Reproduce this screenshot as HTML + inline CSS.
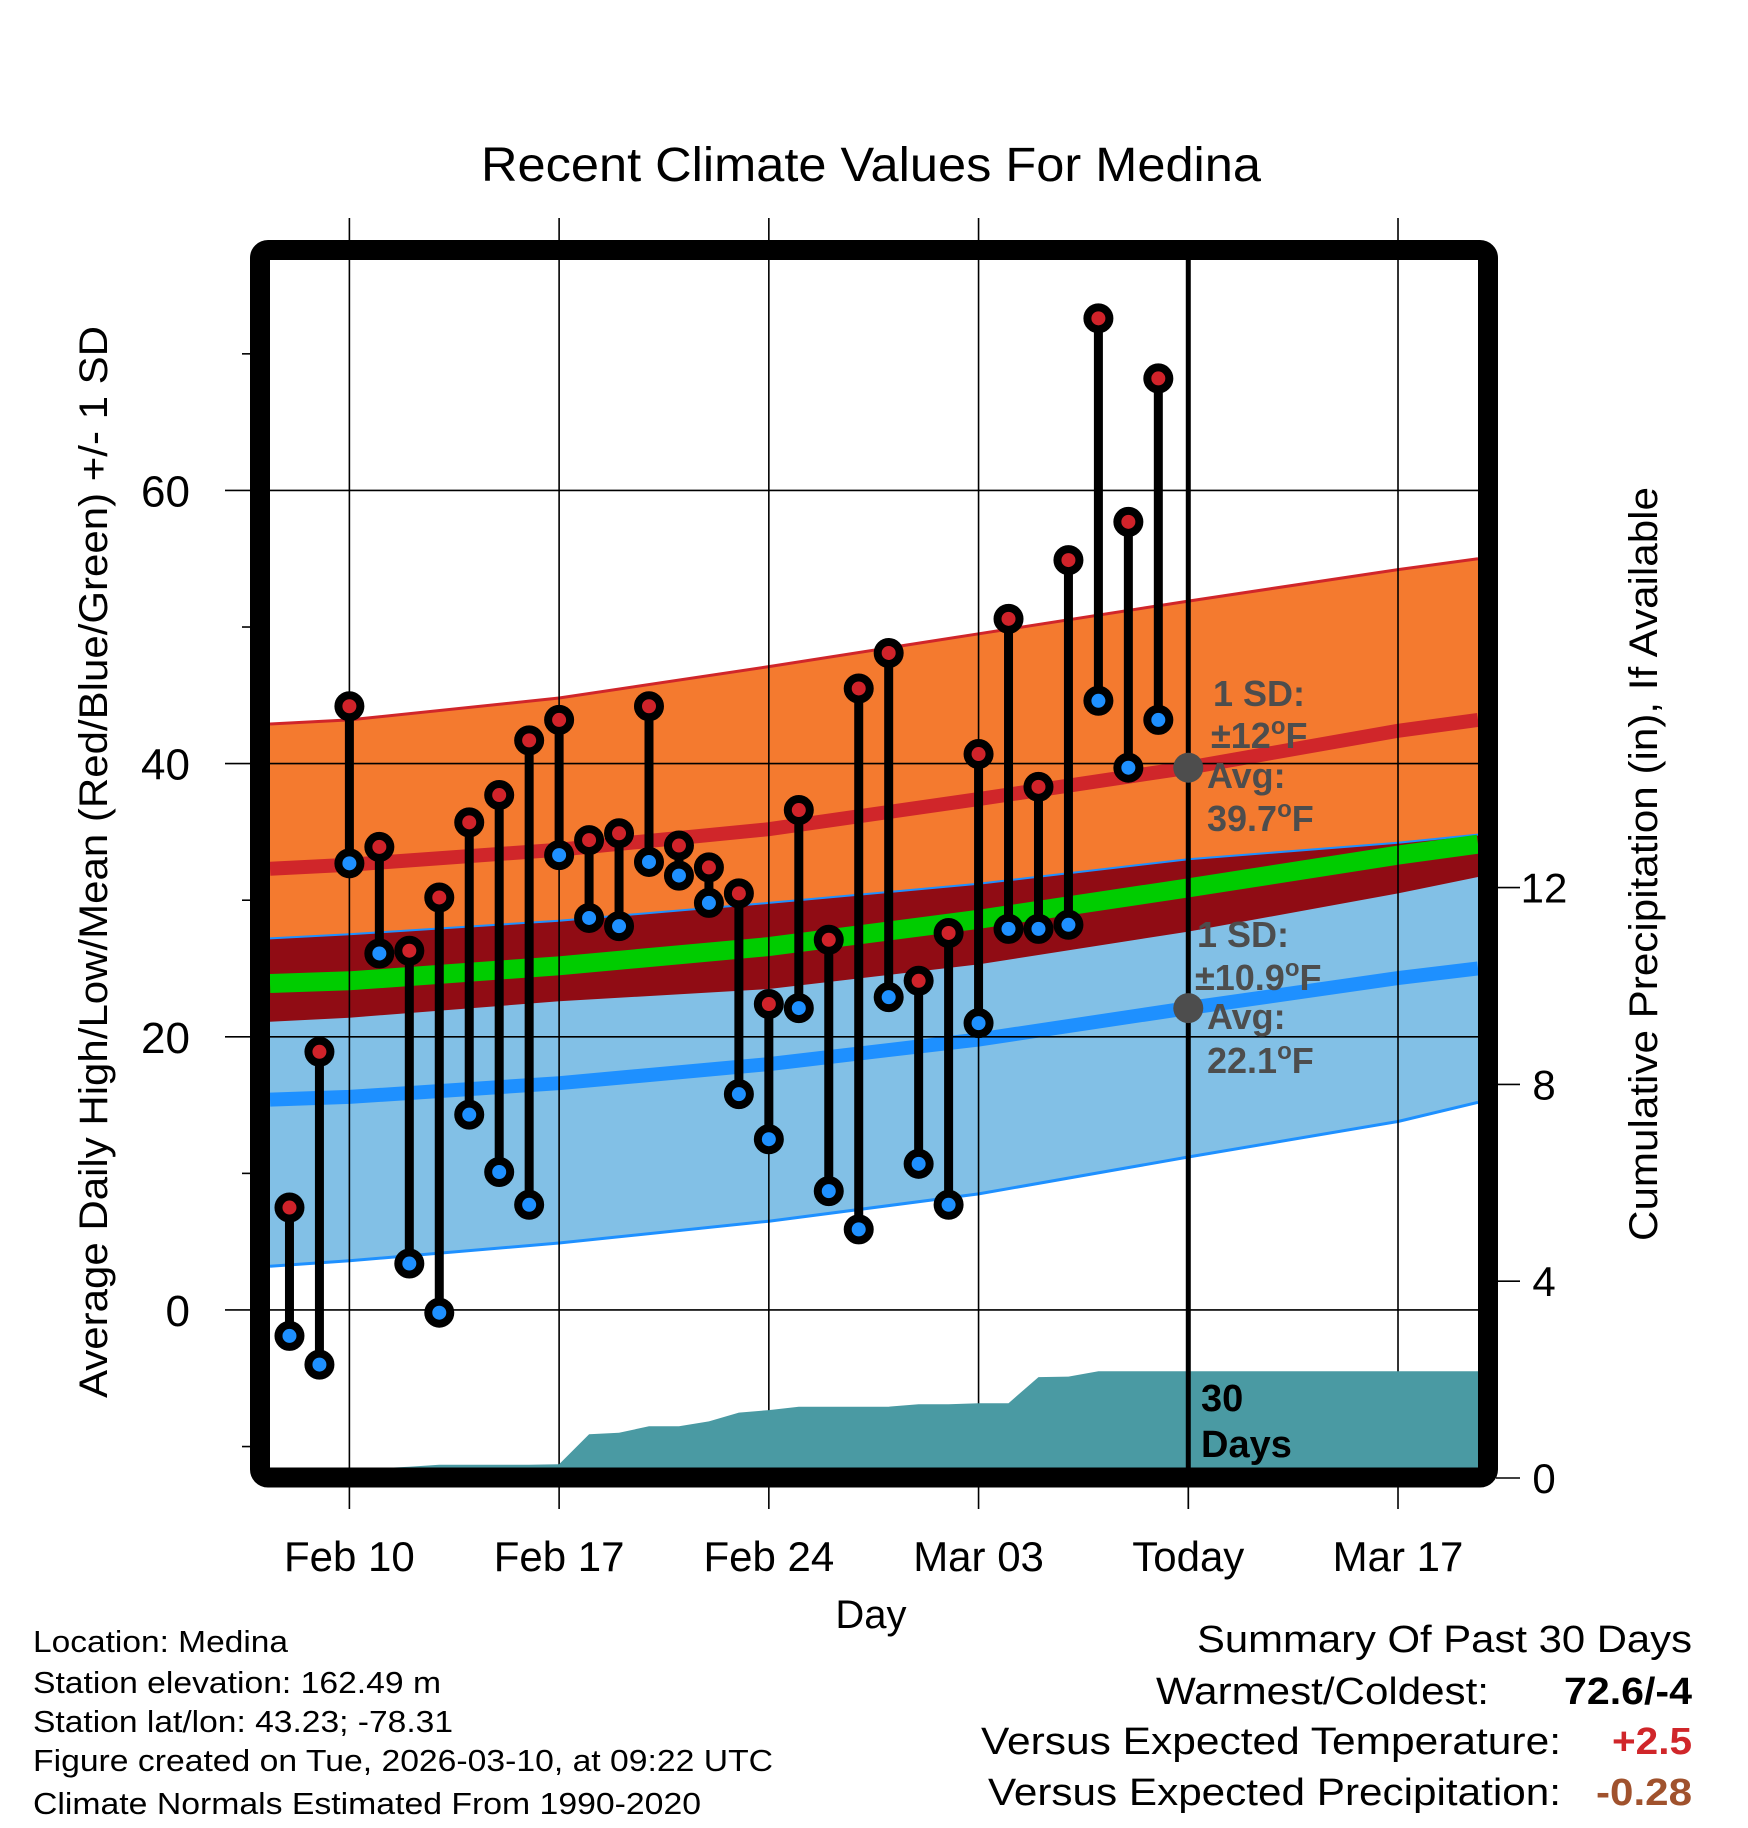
<!DOCTYPE html>
<html><head><meta charset="utf-8"><title>Recent Climate Values For Medina</title>
<style>html,body{margin:0;padding:0;background:#fff}svg{display:block;font-family:"Liberation Sans",sans-serif}</style>
</head><body>
<svg id="chart" width="1748" height="1828" viewBox="0 0 1748 1828" xmlns="http://www.w3.org/2000/svg">
<defs><clipPath id="plotclip"><rect x="270" y="260" width="1208" height="1208"/></clipPath></defs>
<text x="871" y="181" font-size="48" text-anchor="middle" textLength="780" lengthAdjust="spacingAndGlyphs">Recent Climate Values For Medina</text>
<g id="grid-under"></g>
<g id="plot" clip-path="url(#plotclip)"></g>
<g id="over"></g>
<rect x="260" y="250" width="1228" height="1227.5" rx="8" fill="none" stroke="#000" stroke-width="20"/>
<g id="axes"></g>
<text transform="translate(107,862) rotate(-90)" font-size="40" text-anchor="middle" textLength="1072" lengthAdjust="spacingAndGlyphs">Average Daily High/Low/Mean (Red/Blue/Green) +/- 1 SD</text>
<text transform="translate(1657,864) rotate(-90)" font-size="40" text-anchor="middle" textLength="754" lengthAdjust="spacingAndGlyphs">Cumulative Precipitation (in), If Available</text>
<text x="871" y="1628" font-size="40" text-anchor="middle">Day</text>
<g font-size="31">
<text x="33" y="1652" textLength="255" lengthAdjust="spacingAndGlyphs">Location: Medina</text>
<text x="33" y="1693" textLength="408" lengthAdjust="spacingAndGlyphs">Station elevation: 162.49 m</text>
<text x="33" y="1732" textLength="420" lengthAdjust="spacingAndGlyphs">Station lat/lon: 43.23; -78.31</text>
<text x="33" y="1771" textLength="740" lengthAdjust="spacingAndGlyphs">Figure created on Tue, 2026-03-10, at 09:22 UTC</text>
<text x="33" y="1814" textLength="668" lengthAdjust="spacingAndGlyphs">Climate Normals Estimated From 1990-2020</text>
</g>
<g font-size="38" text-anchor="end">
<text x="1692" y="1652" textLength="495" lengthAdjust="spacingAndGlyphs">Summary Of Past 30 Days</text>
<text x="1489" y="1704" textLength="333" lengthAdjust="spacingAndGlyphs">Warmest/Coldest:</text>
<text x="1692" y="1704" font-weight="bold" textLength="128" lengthAdjust="spacingAndGlyphs">72.6/-4</text>
<text x="1561" y="1754" textLength="580" lengthAdjust="spacingAndGlyphs">Versus Expected Temperature:</text>
<text x="1692" y="1754" font-weight="bold" fill="#d0262a" textLength="80" lengthAdjust="spacingAndGlyphs">+2.5</text>
<text x="1561" y="1805" textLength="573" lengthAdjust="spacingAndGlyphs">Versus Expected Precipitation:</text>
<text x="1692" y="1805" font-weight="bold" fill="#a0522d" textLength="96" lengthAdjust="spacingAndGlyphs">-0.28</text>
</g>
</svg>
<script>
// ---- data ----
const days = [-2,-1,0,1,2,3,4,5,6,7,8,9,10,11,12,13,14,15,16,17,18,19,20,21,22,23,24,25,26,27];
const highs = [7.5,18.9,44.2,33.9,26.3,30.2,35.7,37.7,41.7,43.2,34.4,34.9,44.2,34.0,32.4,30.5,22.4,36.6,27.1,45.5,48.1,24.1,27.6,40.7,50.6,38.3,54.9,72.6,57.7,68.2];
const lows = [-1.9,-4.0,32.7,26.1,3.4,-0.2,14.3,10.1,7.7,33.3,28.7,28.1,32.8,31.8,29.8,15.8,12.5,22.1,8.7,5.9,22.9,10.7,7.7,21.0,27.9,27.9,28.2,44.6,39.7,43.2];
const precip = [0,0,0.05,0.2,0.23,0.27,0.27,0.27,0.27,0.28,0.89,0.92,1.05,1.05,1.15,1.33,1.38,1.45,1.45,1.45,1.45,1.5,1.5,1.52,1.52,2.05,2.06,2.17,2.17,2.17];
const normDays = [-2.65,0,7,14,21,28,35,37.67];
const hiUpper = [42.9,43.2,44.8,47.1,49.5,51.9,54.2,55.0];
const hiMean  = [32.3,32.6,33.7,35.2,37.4,39.7,42.4,43.2];
const hiLower = [21.1,21.4,22.6,23.5,25.3,27.7,30.5,31.7];
const loUpper = [27.2,27.5,28.5,29.8,31.2,33.0,34.2,34.8];
const loMean  = [15.4,15.6,16.6,18.0,19.8,22.1,24.3,25.0];
const loLower = [3.2,3.6,4.9,6.5,8.5,11.2,13.8,15.2];
const avgMean = [23.9,24.1,25.2,26.6,28.6,30.9,33.3,34.1];
const xTickDays = [0,7,14,21,28,35];
const xTickLabels = ["Feb 10","Feb 17","Feb 24","Mar 03","Today","Mar 17"];
const yTicks = [0,20,40,60];
const yMinor = [-10,10,30,50,70];
const pTicks = [0,4,8,12];
const todayDay = 28;
const todayHi = 39.7, todayLo = 22.1;
// ---- scales ----
const X0=270,X1=1478,Y0=1468,Y1=260;
const dMin=-2.65,dMax=37.67,tMin=-11.57,tMax=76.87;
const xs=d=>X0+(d-dMin)/(dMax-dMin)*(X1-X0);
const ys=v=>Y0-(v-tMin)/(tMax-tMin)*(Y0-Y1);
const yp=p=>1478-p*49.2;
const NS="http://www.w3.org/2000/svg";
function mk(tag,parent,attrs){const e=document.createElementNS(NS,tag);for(const k in attrs)e.setAttribute(k,attrs[k]);parent.appendChild(e);return e;}
const plot=document.getElementById('plot'),grid=document.getElementById('grid-under'),over=document.getElementById('over'),axes=document.getElementById('axes');
const line=arr=>normDays.map((d,i)=>xs(d).toFixed(1)+','+ys(arr[i]).toFixed(1)).join(' ');
const band=(a,b)=>line(a)+' '+normDays.map((d,i)=>xs(d).toFixed(1)+','+ys(b[i]).toFixed(1)).reverse().join(' ');
let e;
e=mk('polygon',plot,{points:band(hiUpper,hiLower),fill:'#f47a2f'});


e=mk('polygon',plot,{points:band(loUpper,loLower),fill:'#82c0e6'});


e=mk('polygon',plot,{points:band(loUpper,hiLower),fill:'#900c14'});


e=mk('polyline',plot,{points:line(hiUpper),fill:'none',stroke:'#d0262a','stroke-width':3});


e=mk('polyline',plot,{points:line(loUpper),fill:'none',stroke:'#1e90ff','stroke-width':2});


e=mk('polyline',plot,{points:line(loLower),fill:'none',stroke:'#1e90ff','stroke-width':3});


e=mk('polyline',plot,{points:line(hiMean),fill:'none',stroke:'#d0262a','stroke-width':14});


e=mk('polyline',plot,{points:line(loMean),fill:'none',stroke:'#1e90ff','stroke-width':14});


e=mk('polyline',plot,{points:line(avgMean),fill:'none',stroke:'#00cc00','stroke-width':19});


// gridlines
yTicks.forEach(v=>{
  e=mk('line',plot,{x1:X0,x2:X1,y1:ys(v),y2:ys(v),stroke:'#000','stroke-width':1.6});
  
  
  e=mk('line',axes,{x1:225,x2:252,y1:ys(v),y2:ys(v),stroke:'#000','stroke-width':1.6});
  
  
  e=mk('text',axes,{x:190,y:ys(v)+16,'font-size':44,'text-anchor':'end'});
  e.textContent=String(v);
  
  
});
yMinor.forEach(v=>{
  e=mk('line',axes,{x1:242,x2:252,y1:ys(v),y2:ys(v),stroke:'#000','stroke-width':1.6});
  
  
});
xTickDays.forEach((d,i)=>{
  if(d!==todayDay){
    e=mk('line',plot,{x1:xs(d),x2:xs(d),y1:Y1,y2:Y0,stroke:'#000','stroke-width':1.6});
    
    
    e=mk('line',grid,{x1:xs(d),x2:xs(d),y1:218,y2:245,stroke:'#000','stroke-width':1.6});
    
    
  }
  e=mk('line',axes,{x1:xs(d),x2:xs(d),y1:1485,y2:1509,stroke:'#000','stroke-width':1.6});
  
  
  e=mk('text',axes,{x:xs(d),y:1571,'font-size':42,'text-anchor':'middle'});
  e.textContent=xTickLabels[i];
  
  
});
pTicks.forEach(p=>{
  e=mk('line',axes,{x1:1496,x2:1520,y1:yp(p),y2:yp(p),stroke:'#000','stroke-width':1.6});
  
  
  e=mk('text',axes,{x:1544,y:yp(p)+15,'font-size':42,'text-anchor':'middle'});
  e.textContent=String(p);
  
  
});
// precip area
let pts=days.map((d,i)=>xs(d).toFixed(1)+','+yp(precip[i]).toFixed(1));
pts.unshift(xs(days[0]).toFixed(1)+','+yp(0));
pts.push(X1+','+yp(precip[precip.length-1]).toFixed(1));
pts.push(X1+','+yp(0));
e=mk('polygon',plot,{points:pts.join(' '),fill:'#4a9aa3'});


// today line
e=mk('line',over,{x1:xs(todayDay),x2:xs(todayDay),y1:260,y2:1468,stroke:'#000','stroke-width':5});


e=mk('line',axes,{x1:xs(todayDay),x2:xs(todayDay),y1:1485,y2:1509,stroke:'#000','stroke-width':1.6});


// today markers and labels
[[todayHi,'today-high-avg-dot'],[todayLo,'today-low-avg-dot']].forEach(a=>{
  e=mk('circle',over,{cx:xs(todayDay),cy:ys(a[0]),r:15,fill:'#4d4d4d'});
  
  
});
const ann=[["1 SD:",1213,706],["±12°F",1211,748],["Avg:",1207,788],[todayHi.toFixed(1)+"°F",1207,831],["1 SD:",1197,947],["±10.9°F",1195,990],["Avg:",1207,1029],[todayLo.toFixed(1)+"°F",1207,1073]];
ann.forEach(a=>{
  e=mk('text',over,{x:a[1],y:a[2],'font-size':36,'font-weight':'bold',fill:'#4d4d4d'});
  const parts=a[0].split('°');
  e.textContent=parts[0];
  if(parts.length>1){const t=mk('tspan',e,{'font-size':24,dy:-14});t.textContent='o';const t2=mk('tspan',e,{dy:14});t2.textContent=parts[1];}
  
  
});
e=mk('text',over,{x:1201,y:1411,'font-size':38,'font-weight':'bold'});e.textContent='30';


e=mk('text',over,{x:1201,y:1457,'font-size':38,'font-weight':'bold'});e.textContent='Days';


// stems & markers
days.forEach((d,i)=>{
  e=mk('line',over,{x1:xs(d),x2:xs(d),y1:ys(highs[i]),y2:ys(lows[i]),stroke:'#000','stroke-width':9});
  
  
});
days.forEach((d,i)=>{
  e=mk('circle',over,{cx:xs(d),cy:ys(highs[i]),r:11,fill:'#d0232a',stroke:'#000','stroke-width':8});
  
  
  e=mk('circle',over,{cx:xs(d),cy:ys(lows[i]),r:11,fill:'#1e90ff',stroke:'#000','stroke-width':8});
  
  
});
</script>
</body></html>
